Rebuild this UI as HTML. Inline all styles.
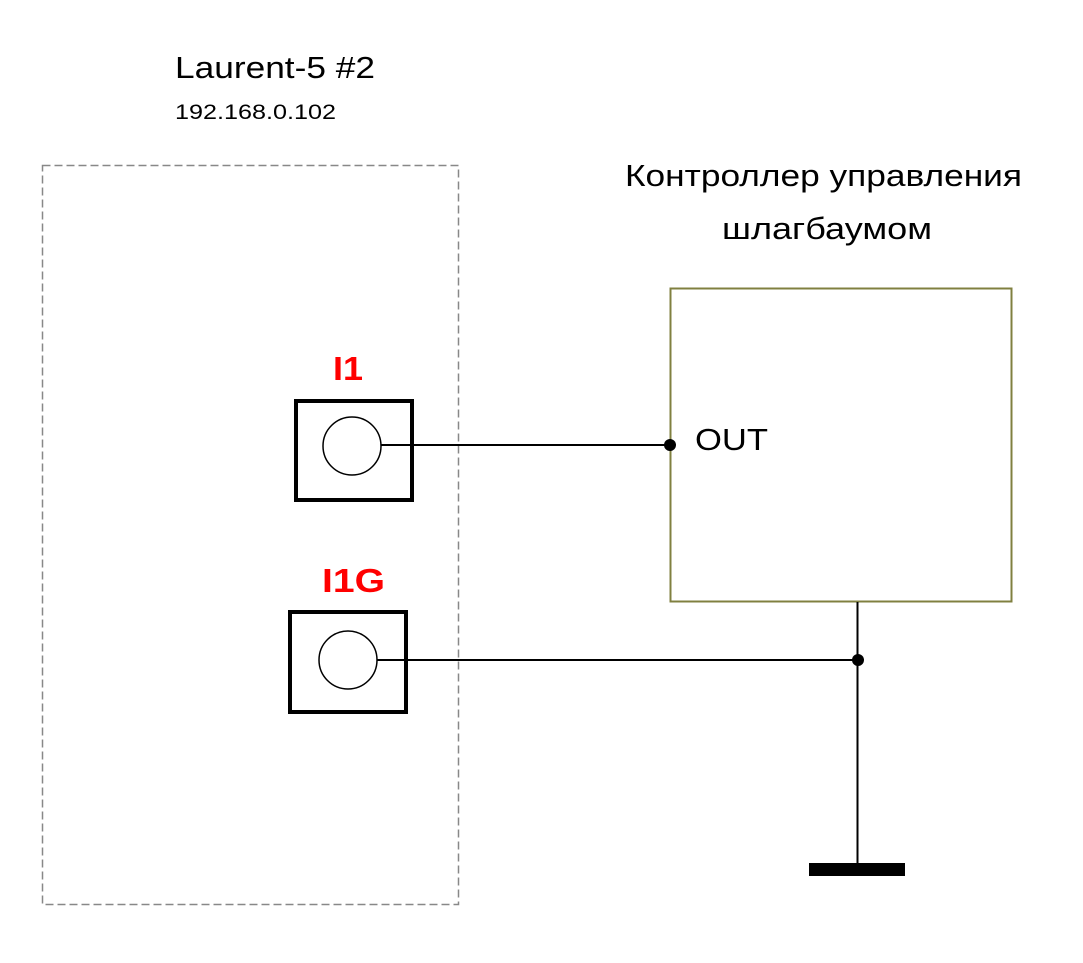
<!DOCTYPE html>
<html><head><meta charset="utf-8"><style>
html,body{margin:0;padding:0;background:#fff;}
svg{display:block;}
text{font-family:"Liberation Sans",Arial,sans-serif;}
</style></head><body>
<svg width="1083" height="963" viewBox="0 0 1083 963" xmlns="http://www.w3.org/2000/svg">
<rect x="0" y="0" width="1083" height="963" fill="#fff"/>
<text x="175" y="78" font-size="31" fill="#000" textLength="200" lengthAdjust="spacingAndGlyphs">Laurent-5 #2</text>
<text x="175" y="119" font-size="21" fill="#000" textLength="161" lengthAdjust="spacingAndGlyphs">192.168.0.102</text>
<rect x="42.5" y="165.5" width="416" height="739" fill="none" stroke="#888" stroke-width="1.5" stroke-dasharray="8,4"/>
<text x="625" y="186" font-size="31" fill="#000" textLength="397" lengthAdjust="spacingAndGlyphs">Контроллер управления</text>
<text x="722" y="239" font-size="31" fill="#000" textLength="210" lengthAdjust="spacingAndGlyphs">шлагбаумом</text>
<rect x="670.5" y="288.5" width="341" height="313" fill="none" stroke="#808040" stroke-width="2"/>
<text x="333" y="380" font-size="33" font-weight="bold" fill="#ff0000" textLength="30" lengthAdjust="spacingAndGlyphs">I1</text>
<text x="322" y="592" font-size="33" font-weight="bold" fill="#ff0000" textLength="63" lengthAdjust="spacingAndGlyphs">I1G</text>
<rect x="296" y="401" width="116" height="99" fill="none" stroke="#000" stroke-width="4"/>
<circle cx="352" cy="446" r="29" fill="none" stroke="#000" stroke-width="1.5"/>
<rect x="290" y="612" width="116" height="100" fill="none" stroke="#000" stroke-width="4"/>
<circle cx="348" cy="660" r="29" fill="none" stroke="#000" stroke-width="1.5"/>
<line x1="381" y1="445" x2="670" y2="445" stroke="#000" stroke-width="2"/>
<circle cx="670" cy="445" r="6" fill="#000"/>
<text x="695" y="450" font-size="31" fill="#000" textLength="73" lengthAdjust="spacingAndGlyphs">OUT</text>
<line x1="377" y1="660" x2="858" y2="660" stroke="#000" stroke-width="2"/>
<line x1="857.5" y1="602" x2="857.5" y2="864" stroke="#000" stroke-width="2"/>
<circle cx="858" cy="660" r="6" fill="#000"/>
<rect x="809" y="863" width="96" height="13" fill="#000"/>
</svg>
</body></html>
